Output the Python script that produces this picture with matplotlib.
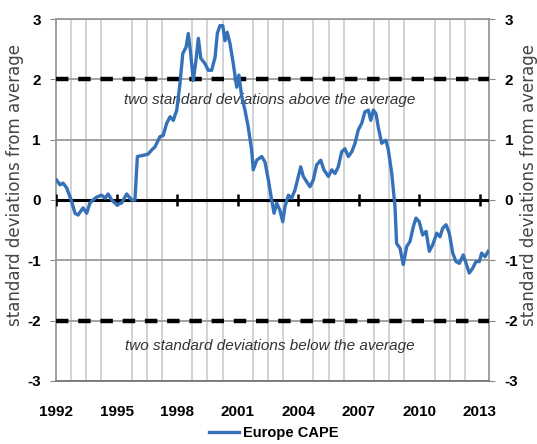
import matplotlib
matplotlib.use("Agg")
import matplotlib.pyplot as plt
from matplotlib.ticker import MultipleLocator

# decimal years and standard deviations from average
years = [1992.03, 1992.20, 1992.35, 1992.53, 1992.78, 1992.94, 1993.09, 1993.34, 1993.52, 1993.68,
         1993.83, 1994.02, 1994.26, 1994.43, 1994.58, 1994.76, 1995.01, 1995.25, 1995.50, 1995.75,
         1995.91, 1996.03, 1996.31, 1996.56, 1996.74, 1996.90, 1997.15, 1997.31, 1997.48, 1997.65,
         1997.81, 1997.98, 1998.14, 1998.28, 1998.44, 1998.55, 1998.67, 1998.80, 1998.93, 1999.05,
         1999.17, 1999.38, 1999.54, 1999.71, 1999.88, 1999.99, 2000.12, 2000.26, 2000.37, 2000.48,
         2000.62, 2000.78, 2000.95, 2001.06, 2001.20, 2001.36, 2001.52, 2001.69, 2001.77, 2001.94,
         2002.19, 2002.35, 2002.52, 2002.68, 2002.80, 2002.93, 2003.09, 2003.23, 2003.34, 2003.51,
         2003.67, 2003.84, 2004.00, 2004.12, 2004.25, 2004.42, 2004.58, 2004.74, 2004.91, 2005.11,
         2005.27, 2005.49, 2005.66, 2005.82, 2005.98, 2006.15, 2006.31, 2006.48, 2006.65, 2006.81,
         2006.97, 2007.14, 2007.30, 2007.47, 2007.59, 2007.72, 2007.85, 2007.96, 2008.13, 2008.34,
         2008.46, 2008.63, 2008.74, 2008.79, 2008.87, 2009.04, 2009.20, 2009.37, 2009.53, 2009.70,
         2009.83, 2009.99, 2010.16, 2010.33, 2010.49, 2010.66, 2010.86, 2011.02, 2011.15, 2011.32,
         2011.48, 2011.65, 2011.81, 2011.98, 2012.17, 2012.31, 2012.47, 2012.64, 2012.80, 2012.97,
         2013.08, 2013.25, 2013.41]
cape = [0.33, 0.25, 0.28, 0.20, -0.03, -0.22, -0.25, -0.13, -0.22, -0.05,
        0.00, 0.05, 0.08, 0.03, 0.10, 0.00, -0.08, -0.05, 0.10, 0.00,
        0.00, 0.72, 0.74, 0.76, 0.83, 0.88, 1.05, 1.07, 1.27, 1.38,
        1.32, 1.49, 1.93, 2.43, 2.53, 2.76, 2.43, 1.98, 2.31, 2.68,
        2.35, 2.26, 2.15, 2.15, 2.37, 2.76, 2.89, 2.89, 2.64, 2.78,
        2.59, 2.26, 1.87, 2.07, 1.71, 1.49, 1.21, 0.83, 0.50, 0.66,
        0.72, 0.63, 0.33, 0.00, -0.22, -0.05, -0.17, -0.36, -0.11, 0.08,
        0.03, 0.17, 0.39, 0.55, 0.39, 0.30, 0.22, 0.33, 0.58, 0.66,
        0.50, 0.39, 0.50, 0.44, 0.55, 0.80, 0.85, 0.72, 0.80, 0.94,
        1.16, 1.27, 1.46, 1.49, 1.32, 1.49, 1.43, 1.21, 0.94, 0.99,
        0.83, 0.44, 0.05, -0.11, -0.72, -0.80, -1.07, -0.77, -0.69, -0.44,
        -0.30, -0.36, -0.58, -0.52, -0.85, -0.74, -0.55, -0.61, -0.47, -0.41,
        -0.55, -0.88, -1.02, -1.05, -0.91, -1.05, -1.21, -1.13, -1.02, -1.02,
        -0.88, -0.94, -0.85]

tick_years = [1992, 1995, 1998, 2001, 2004, 2007, 2010, 2013]
y_ticks = [-3, -2, -1, 0, 1, 2, 3]
band_levels = [2, -2]
band_texts = ["two standard deviations above the average",
              "two standard deviations below the average"]
band_text_y = [1.65, -2.42]

plt.rcParams["axes.unicode_minus"] = False
tickfont = {"family": "Liberation Sans", "weight": "bold", "size": 11}
blue = "#3571b8"

fig = plt.figure(figsize=(5.37, 4.44), dpi=100)
ax = fig.add_axes([0.1043, 0.1419, 0.8072, 0.8153])

ax.set_xlim(1992, 2013.47)
ax.set_ylim(-3, 3)

# thin vertical grid every 9 months, horizontal grid at the integers
ax.xaxis.set_minor_locator(MultipleLocator(0.75))
ax.grid(which="minor", axis="x", color="#cfcfcf", linewidth=1.3)
ax.set_yticks(y_ticks)
ax.grid(which="major", axis="y", color="#9a9a9a", linewidth=1.3)
ax.set_axisbelow(True)

for lvl in band_levels:
    ax.axhline(lvl, color="black", linewidth=3.2, dashes=(2.8, 2.2), zorder=3)
ax.axhline(0, color="black", linewidth=2.2, zorder=3)
ax.plot(tick_years, [0] * len(tick_years), linestyle="none", marker="|",
        markersize=9, markeredgewidth=1.8, color="black", zorder=3)

for txt, ty in zip(band_texts, band_text_y):
    ax.text(2002.6, ty, txt, ha="center", va="center", style="italic",
            fontsize=11, color="#333333", family="Liberation Sans", zorder=4)

ax.plot(years, cape, color=blue, linewidth=2.4, zorder=5, label="Europe CAPE")

ax.set_xticks(tick_years)
ax.set_xticklabels([str(y) for y in tick_years], fontdict=tickfont)
ax.tick_params(axis="x", which="both", length=0, pad=17)
ax.set_yticklabels([str(v) for v in y_ticks], fontdict=tickfont)
ax.tick_params(axis="y", length=4, color="#888888", pad=7)

for side in ["left", "right", "top"]:
    ax.spines[side].set_color("#999999")
ax.spines["bottom"].set_color("#777777")
for sp in ax.spines.values():
    sp.set_linewidth(1.3)

ax2 = ax.twinx()
ax2.set_ylim(-3, 3)
ax2.set_yticks(y_ticks)
ax2.set_yticklabels([str(v) for v in y_ticks], fontdict=tickfont)
ax2.tick_params(axis="y", length=4, color="#888888", pad=7)
for sp in ax2.spines.values():
    sp.set_visible(False)

ylab = "standard deviations from average"
fig.text(15 / 537, 1 - 185 / 444, ylab, rotation=90, ha="center", va="center",
         fontsize=12, color="#444444")
fig.text(529 / 537, 1 - 185 / 444, ylab, rotation=90, ha="center", va="center",
         fontsize=12, color="#444444")

leg = ax.legend(loc="center", bbox_to_anchor=(274 / 537, 1 - 433 / 444),
                bbox_transform=fig.transFigure, frameon=False,
                handlelength=2.0, handletextpad=0.3,
                prop={"family": "Liberation Sans", "weight": "bold", "size": 10.5})

fig.savefig("out.png", dpi=100)
